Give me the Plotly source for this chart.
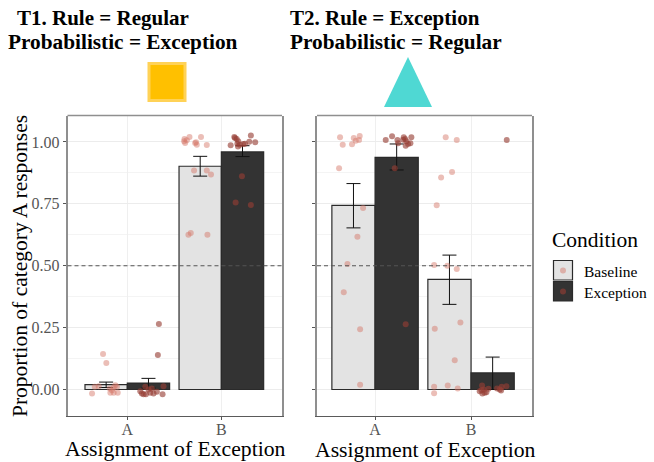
import plotly.graph_objects as go

W, H = 654, 462
categories = ["A", "B"]
conditions = ["Baseline", "Exception"]
y_ticks = [0, 0.25, 0.5, 0.75, 1.0]
y_tick_labels = ["0.00", "0.25", "0.50", "0.75", "1.00"]
y_minor = [0.125, 0.375, 0.625, 0.875]

# Panel T1
t1_base_mean = [0.020, 0.902]
t1_base_hi = [0.030, 0.942]
t1_base_lo = [0.008, 0.862]
t1_exc_mean = [0.026, 0.960]
t1_exc_hi = [0.045, 0.985]
t1_exc_lo = [0.006, 0.941]
# Panel T2
t2_base_mean = [0.744, 0.445]
t2_base_hi = [0.832, 0.543]
t2_base_lo = [0.653, 0.344]
t2_exc_mean = [0.938, 0.067]
t2_exc_hi = [0.992, 0.131]
t2_exc_lo = [0.887, 0.0]

t1_base_x = [0.625, 0.742, 0.777, 0.654, 0.696, 0.813, 0.82, 0.855, 0.898, 0.873, 0.89, 0.855, 0.837,
             1.608, 1.615, 1.604, 1.661, 1.784, 1.721, 1.739, 1.731, 1.845, 1.71, 1.845, 1.89, 1.65, 1.675, 1.852, 1.633]
t1_base_y = [-0.016, 0.143, 0.107, 0.011, 0.013, 0.004, -0.013, -0.013, -0.013, 0.017, 0.011, 0.008, -0.003,
             1.012, 0.996, 1.003, 1.02, 1.02, 0.996, 0.989, 0.999, 0.988, 0.885, 0.885, 0.869, 0.625, 0.632, 0.625, 1.007]
t1_exc_x = [1.336, 1.325, 1.138, 1.173, 1.198, 1.226, 1.244, 1.261, 1.279, 1.314, 1.375, 1.385, 1.191, 1.155,
            2.099, 2.138, 2.163, 2.18, 2.17, 2.198, 2.233, 2.251, 2.297, 2.314, 2.36, 2.177, 2.219, 2.152, 2.314, 2.145]
t1_exc_y = [0.265, 0.139, -0.007, -0.019, -0.019, 0.0, -0.013, 0.004, -0.016, -0.009, -0.019, 0.013, 0.011, -0.016,
            0.987, 1.02, 1.012, 1.003, 0.993, 0.989, 0.992, 0.993, 1.001, 1.026, 0.999, 0.982, 0.862, 0.756, 0.745, 1.016]
t2_base_x = [0.635, 0.663, 0.76, 0.778, 0.799, 0.833, 0.84, 0.625, 0.875, 0.816, 0.712, 0.674, 0.844, 0.844,
             1.736, 1.851, 1.802, 1.688, 1.642, 1.615, 1.753, 1.851, 1.889, 1.622, 1.83, 1.615, 1.615, 1.757, 1.861]
t2_base_y = [1.019, 0.989, 0.991, 1.016, 1.005, 1.008, 1.024, 0.894, 0.733, 0.617, 0.507, 0.393, 0.243, 0.019,
             1.019, 1.008, 0.879, 0.857, 0.744, 0.503, 0.5, 0.487, 0.271, 0.245, 0.118, 0.011, -0.015, 0.016, 0.004]
t2_exc_x = [1.111, 1.177, 1.233, 1.24, 1.299, 1.313, 1.326, 1.344, 1.368, 1.378, 1.319, 1.205, 1.319, 1.292,
            2.372, 2.115, 2.108, 2.118, 2.142, 2.16, 2.181, 2.271, 2.299, 2.319, 2.313, 2.368, 2.132, 2.09]
t2_exc_y = [1.008, 1.023, 1.008, 0.995, 1.019, 1.012, 1.003, 0.992, 0.995, 1.019, 0.985, 0.894, 0.264, 1.009,
            1.008, 0.016, -0.003, -0.016, -0.013, -0.011, 0.003, 0.004, 0.0, 0.011, -0.004, 0.013, 0.0, -0.007]

BAR_FILL = {"Baseline": "#E3E3E3", "Exception": "#333333"}
PT = {"Baseline": "rgba(214,120,105,0.48)", "Exception": "rgba(150,62,52,0.62)"}
SERIF = "Liberation Serif"

fig = go.Figure()


def bars(name, mean, hi, lo, xa, ya):
    fig.add_trace(go.Bar(
        x=[1, 2], y=mean, name=name, xaxis=xa, yaxis=ya, offsetgroup=name, width=0.45,
        marker=dict(color=BAR_FILL[name], line=dict(color="#2a2a2a", width=1.2)),
        error_y=dict(type="data", symmetric=False,
                     array=[h - m for h, m in zip(hi, mean)],
                     arrayminus=[m - l for m, l in zip(mean, lo)],
                     color="#111111", thickness=1, width=7),
        showlegend=False, hoverinfo="skip"))


def points(name, x, y, xa, ya):
    fig.add_trace(go.Scatter(
        x=x, y=y, mode="markers", xaxis=xa, yaxis=ya, showlegend=False, hoverinfo="skip",
        marker=dict(color=PT[name], size=6, line=dict(width=0))))


bars("Baseline", t1_base_mean, t1_base_hi, t1_base_lo, "x", "y")
bars("Exception", t1_exc_mean, t1_exc_hi, t1_exc_lo, "x", "y")
bars("Baseline", t2_base_mean, t2_base_hi, t2_base_lo, "x2", "y2")
bars("Exception", t2_exc_mean, t2_exc_hi, t2_exc_lo, "x2", "y2")
points("Baseline", t1_base_x, t1_base_y, "x", "y")
points("Exception", t1_exc_x, t1_exc_y, "x", "y")
points("Baseline", t2_base_x, t2_base_y, "x2", "y2")
points("Exception", t2_exc_x, t2_exc_y, "x2", "y2")

px = lambda v: v / W
py = lambda v: 1 - v / H
P1 = (67.5, 282)
P2 = (317, 532)
TOP, BOT = 115.5, 415.5
BORDER = "#8f8f8f"
xcommon = dict(tickmode="array", tickvals=[1, 2], ticktext=categories, showgrid=True, gridcolor="#efefef",
               gridwidth=1, zeroline=False, showline=True, linecolor="#5a5a5a", linewidth=1.2,
               ticks="outside", ticklen=3, tickcolor="#555555", tickwidth=1, ticklabelstandoff=-4,
               tickfont=dict(family=SERIF, size=16, color="#555555"))
ycommon = dict(tickmode="array", tickvals=y_ticks, showgrid=True, gridcolor="#ececec", gridwidth=1,
               zeroline=False, showline=True, mirror=True, linecolor=BORDER, linewidth=1.5,
               ticks="outside", ticklen=3, tickcolor="#555555", tickwidth=1, range=[-0.105, 1.107],
               minor=dict(tickvals=y_minor, showgrid=True, gridcolor="#f4f4f4", gridwidth=1, ticks=""),
               )

shapes = []
for i, (ref, p) in enumerate((("x", P1), ("x2", P2))):
    yr = "y" if i == 0 else "y2"
    shapes.append(dict(type="line", xref=f"{ref} domain", yref=yr, x0=0, x1=1, y0=0.5, y1=0.5,
                       line=dict(color="#555555", width=1, dash="4px,3px")))
    shapes.append(dict(type="line", xref="paper", yref="paper", x0=px(p[0]), x1=px(p[1]), y0=py(TOP), y1=py(TOP),
                       line=dict(color=BORDER, width=1.5)))
# colored stimuli
shapes.append(dict(type="rect", xref="paper", yref="paper", x0=px(149), x1=px(185), y0=py(63.5), y1=py(100.5),
                   fillcolor="#FFC000", line=dict(color="#FFD257", width=3)))
shapes.append(dict(type="path", xref="paper", yref="paper",
                   path=f"M {px(384)} {py(107)} L {px(408)} {py(57)} L {px(432)} {py(107)} Z",
                   fillcolor="#4FD8D3", line=dict(width=0)))
# legend keys
for name, y0 in (("Baseline", 260.5), ("Exception", 281.5)):
    shapes.append(dict(type="rect", xref="paper", yref="paper", x0=px(553.5), x1=px(572.5), y0=py(y0), y1=py(y0 + 19.5),
                       fillcolor=BAR_FILL[name], line=dict(color="#2a2a2a", width=1.2)))
    cx, cy = 563, y0 + 10
    shapes.append(dict(type="circle", xref="paper", yref="paper", x0=px(cx - 3), x1=px(cx + 3), y0=py(cy - 3), y1=py(cy + 3),
                       fillcolor=PT[name], line=dict(width=0)))


def text(s, x, y, size, color="black", bold=False, anchor="left", angle=0):
    fig.add_annotation(text=f"<b>{s}</b>" if bold else s, xref="paper", yref="paper", x=px(x), y=py(y),
                       xanchor=anchor, yanchor="middle", showarrow=False, textangle=angle,
                       font=dict(family=SERIF, size=size, color=color))


text("T1. Rule = Regular", 15, 18, 21, bold=True)
text("Probabilistic = Exception", 6, 42, 21.3, bold=True)
text("T2. Rule = Exception", 288, 18, 21, bold=True)
text("Probabilistic = Regular", 288, 42, 21.3, bold=True)
text("Proportion of category A responses", 20, 266, 21.5, anchor="center", angle=-90)
text("Assignment of Exception", 175, 449, 21.7, anchor="center")
text("Assignment of Exception", 425, 450, 21.7, anchor="center")
text("Condition", 550, 240, 21.5)
text("Baseline", 582, 271, 15.5)
text("Exception", 582, 292, 15.5)

fig.update_layout(
    width=W, height=H, margin=dict(l=0, r=0, t=0, b=0), autosize=False,
    paper_bgcolor="white", plot_bgcolor="white", barmode="group", bargap=0.1, bargroupgap=0,
    showlegend=False, shapes=shapes,
    xaxis=dict(domain=[px(P1[0]), px(P1[1])], range=[0.364, 2.645], anchor="y", **xcommon),
    xaxis2=dict(domain=[px(P2[0]), px(P2[1])], range=[0.395, 2.635], anchor="y2", **xcommon),
    yaxis=dict(domain=[py(BOT), py(TOP)], anchor="x", ticktext=y_tick_labels,
               tickfont=dict(family=SERIF, size=16, color="#555555"), **ycommon),
    yaxis2=dict(domain=[py(BOT), py(TOP)], anchor="x2", ticktext=[""] * 5, **ycommon),
)
fig.write_html("out.html", config={"displayModeBar": False},
               post_script="document.body.style.margin='0';document.documentElement.style.overflow='hidden';")
